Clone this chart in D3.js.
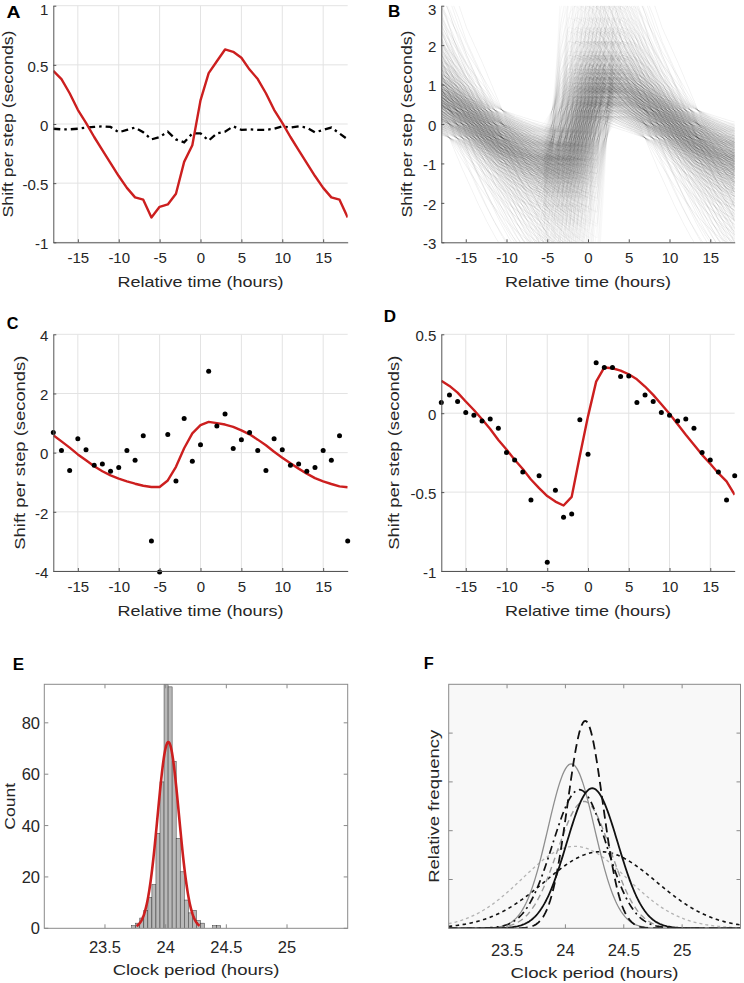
<!DOCTYPE html>
<html><head><meta charset="utf-8">
<script src="https://cdn.jsdelivr.net/npm/d3@7"></script>
<style>
body{margin:0;background:#fff}
svg{display:block}
</style>
</head><body>
<svg id="fig" width="744" height="983"></svg>
<script>
// ================= DATA =================
const hours = [-18,-17,-16,-15,-14,-13,-12,-11,-10,-9,-8,-7,-6,-5,-4,-3,-2,-1,0,1,2,3,4,5,6,7,8,9,10,11,12,13,14,15,16,17,18];
const relTimeTicks = [-15,-10,-5,0,5,10,15];

// Panel A
const aFitted  = [0.45,0.38,0.26,0.12,0.01,-0.11,-0.22,-0.33,-0.44,-0.54,-0.62,-0.64,-0.79,
                  -0.70,-0.68,-0.59,-0.32,-0.18,0.20,0.43,0.53,0.63,0.61,0.56,
                  0.46,0.38,0.26,0.12,0.01,-0.11,-0.22,-0.33,-0.44,-0.54,-0.62,-0.64,-0.79];
const aControl = [-0.04,-0.045,-0.045,-0.04,-0.03,-0.025,-0.02,-0.025,-0.07,-0.05,-0.03,-0.07,-0.13,
                  -0.11,-0.065,-0.13,-0.155,-0.08,-0.08,-0.14,-0.08,-0.065,-0.02,-0.05,
                  -0.045,-0.05,-0.05,-0.04,-0.02,-0.03,-0.02,-0.03,-0.07,-0.05,-0.03,-0.08,-0.13];
const aYTicks = [-1,-0.5,0,0.5,1];

// Panel B: one-period response shapes (hours -18..5) and the spread of individual curves
const bTemplateGradual = [0.55,0.43,0.31,0.18,0.05,-0.08,-0.21,-0.33,-0.45,-0.56,-0.66,-0.75,
                          -0.83,-0.90,-0.96,-1.00,-0.60,0.00,0.55,0.90,1.00,0.95,0.85,0.71];
const bTemplateSteep   = [0.55,0.43,0.31,0.18,0.05,-0.08,-0.21,-0.33,-0.45,-0.56,-0.66,-0.75,
                          -0.83,-0.90,-0.96,-1.02,-1.07,-0.20,0.75,1.00,0.97,0.92,0.84,0.71];
const bAmplitudes = [0.55,0.7,0.85,0.95,1.05,1.18,1.32,1.5,1.75,2.1,2.7,3.8];
const bShifts = [-3.4,-2.5,-1.8,-1.2,-0.7,-0.25,0.2,0.65,1.1,1.6,2.2,3.1];
const bOffsets = [-0.35,0,0.35];
const bYTicks = [-3,-2,-1,0,1,2,3];

// Panel C
const cObserved = [0.68,0.07,-0.60,0.47,0.10,-0.43,-0.38,-0.63,-0.50,0.07,-0.26,0.57,-2.99,
                   -4.03,0.61,-0.96,1.15,-0.29,0.27,2.75,0.90,1.31,0.14,0.44,
                   0.68,0.07,-0.60,0.47,0.10,-0.43,-0.38,-0.63,-0.50,0.07,-0.26,0.57,-2.99];
const cFitted = [0.59,0.38,0.17,-0.06,-0.26,-0.46,-0.63,-0.77,-0.88,-0.97,-1.05,-1.12,-1.16,
                 -1.16,-0.94,-0.48,0.15,0.65,0.93,1.04,1.00,0.95,0.87,0.75,
                 0.62,0.44,0.25,0.03,-0.17,-0.36,-0.54,-0.71,-0.86,-0.97,-1.06,-1.14,-1.17];
const cYTicks = [-4,-2,0,2,4];

// Panel D
const dObserved = [0.068,0.116,0.074,0.004,-0.013,-0.049,-0.036,-0.095,-0.249,-0.297,-0.373,-0.55,-0.397,
                   -0.945,-0.489,-0.66,-0.639,-0.042,-0.26,0.32,0.29,0.289,0.232,0.236,
                   0.068,0.116,0.074,0.004,-0.013,-0.049,-0.036,-0.095,-0.249,-0.297,-0.373,-0.55,-0.397];
const dFitted = [0.205,0.173,0.13,0.074,0.02,-0.038,-0.10,-0.17,-0.23,-0.295,-0.354,-0.42,-0.475,
                 -0.525,-0.56,-0.585,-0.53,-0.27,-0.02,0.20,0.29,0.285,0.27,0.247,
                 0.215,0.169,0.116,0.057,-0.004,-0.07,-0.137,-0.2,-0.264,-0.32,-0.38,-0.432,-0.517];
const dYTicks = [-1,-0.5,0,0.5];

// Panel E: histogram of clock periods
const eBinEdges = [23.72,23.7533,23.7867,23.82,23.8533,23.8867,23.92,23.9533,23.9867,24.02,24.0533,24.0867,
                   24.12,24.1533,24.1867,24.22,24.2533,24.2867,24.32,24.3533,24.3867,24.42,24.4533];
const eCounts = [1,2,4,7,12,17,37,57,95,94,65,35,22,11,6,7,3,2,0,0,1,1];
const eFitMean = 24.022, eFitSD = 0.088, eFitPeak = 72.5, eFitRange = [23.76,24.283];
const periodTicks = [23.5,24,24.5,25];
const eYTicks = [0,20,40,60,80];

// Panel F: fitted period distributions
const fMeans = [24.05,24.17,24.23,24.12,24.16,24.08,24.30];
const fSDs   = [0.20,0.15,0.22,0.23,0.23,0.45,0.48];
const fPeaks = [3.37,4.25,2.87,2.84,2.6,1.68,1.57];
const fYTicks = [1,2,3,4];

// ================= DRAWING =================
const FONT = '"Liberation Sans", Arial, Helvetica, sans-serif';
const svg = d3.select('#fig');
const RED = '#cc1f1f';
let clipId = 0;

function addClip(x0,y0,w,h){
  const id = 'clip'+(clipId++);
  svg.append('clipPath').attr('id',id).append('rect').attr('x',x0).attr('y',y0).attr('width',w).attr('height',h);
  return 'url(#'+id+')';
}
function txt(g,x,y,s,size,opts={}){
  const t = g.append('text').attr('x',x).attr('y',y).text(s)
    .attr('font-family',FONT).attr('font-size',size).attr('fill',opts.fill||'#262626');
  if(opts.bold) t.attr('font-weight','bold');
  if(opts.anchor) t.attr('text-anchor',opts.anchor);
  if(opts.len) t.attr('textLength',opts.len).attr('lengthAdjust','spacingAndGlyphs');
  if(opts.rotate) t.attr('transform',`rotate(-90 ${x} ${y})`);
  return t;
}
function styleAxis(a,size,color){
  a.attr('font-family',null).attr('font-size',null);
  a.select('.domain').attr('stroke',color).attr('stroke-width',1);
  a.selectAll('.tick line').attr('stroke',color);
  a.selectAll('.tick text').attr('font-family',FONT).attr('font-size',size).attr('fill','#262626');
}

function timePanel(c){
  const g = svg.append('g');
  const x = d3.scaleLinear().domain([-18,18]).range([c.x0,c.x1]);
  const y = d3.scaleLinear().domain(c.yDomain).range([c.y1,c.y0]);
  if(c.grid){
    g.selectAll('.gx').data(relTimeTicks).join('line')
      .attr('x1',d=>x(d)).attr('x2',d=>x(d)).attr('y1',c.y0).attr('y2',c.y1)
      .attr('stroke','#e3e3e3').attr('stroke-width',1);
    g.selectAll('.gy').data(c.yTicks).join('line')
      .attr('x1',c.x0).attr('x2',c.x1).attr('y1',d=>y(d)).attr('y2',d=>y(d))
      .attr('stroke','#e3e3e3').attr('stroke-width',1);
  }
  const clip = addClip(c.x0,c.y0,c.x1-c.x0,c.y1-c.y0);
  const layer = g.append('g').attr('clip-path',clip);
  c.draw(layer,x,y,g);
  const ax = g.append('g').attr('transform',`translate(0,${c.y1})`)
    .call(d3.axisBottom(x).tickValues(relTimeTicks).tickFormat(d=>String(d)).tickSizeInner(-3).tickSizeOuter(0).tickPadding(10));
  styleAxis(ax,15,'#555');
  ax.selectAll('.tick text').attr('y',10).attr('dy','0.71em');
  const ay = g.append('g').attr('transform',`translate(${c.x0},0)`)
    .call(d3.axisLeft(y).tickValues(c.yTicks).tickFormat(d=>String(d)).tickSizeInner(-3).tickSizeOuter(0).tickPadding(5));
  styleAxis(ay,15,'#555');
  ay.selectAll('.tick text').attr('x',-5).attr('dy',d=>y(d)<12?'0.56em':'0.42em');
  txt(g,c.lx,c.ly,c.label,16,{bold:true,len:c.llen,fill:'#000'});
  txt(g,(c.x0+c.x1)/2,c.xtY,'Relative time (hours)',15,{anchor:'middle',len:166});
  txt(g,c.ytX,(c.y0+c.y1)/2,'Shift per step (seconds)',15,{anchor:'middle',len:c.ytLen,rotate:true});
}

const lineGen = (x,y)=>d3.line().x(d=>x(d.t)).y(d=>y(d.v));
const zipT = arr => hours.map((t,i)=>({t:t,v:arr[i]}));

// ---- A ----
timePanel({x0:53.3,x1:347.7,y0:5.7,y1:242.3,yDomain:[-1,1],yTicks:aYTicks,grid:true,
  label:'A',lx:6.5,ly:18,llen:14,xtY:287,ytX:13,ytLen:187,
  draw:(L,x,y)=>{
    L.append('path').datum(zipT(aControl)).attr('d',lineGen(x,y)).attr('fill','none')
      .attr('stroke','#000').attr('stroke-width',2.3).attr('stroke-dasharray','7,4,2.5,4');
    L.append('path').datum(zipT(aFitted)).attr('d',lineGen(x,y)).attr('fill','none')
      .attr('stroke',RED).attr('stroke-width',2.4).attr('stroke-linejoin','round');
  }});

// ---- B ----
timePanel({x0:441.3,x1:734.7,y0:5.7,y1:242.3,yDomain:[-3,3],yTicks:bYTicks,grid:false,
  label:'B',lx:388,ly:17,llen:12.3,xtY:287,ytX:412,ytLen:187,
  draw:(L,x,y)=>{
    const curves=[];
    [bTemplateGradual,bTemplateSteep].forEach(tp=>
      bAmplitudes.forEach(a=>bShifts.forEach(s=>bOffsets.forEach(o=>{
        const pts=[];
        [-1,0,1].forEach(k=>tp.forEach((v,i)=>pts.push({t:hours[i]+24*k+s,v:a*v+o})));
        curves.push(pts);
      }))));
    L.selectAll('.bc').data(curves).join('path').attr('d',lineGen(x,y)).attr('fill','none')
      .attr('stroke','#333').attr('stroke-opacity',0.036).attr('stroke-width',0.8);
  }});

// ---- C ----
timePanel({x0:53.3,x1:347.7,y0:334.3,y1:571,yDomain:[-4,4],yTicks:cYTicks,grid:true,
  label:'C',lx:6.7,ly:328.5,llen:11.7,xtY:616,ytX:25,ytLen:194,
  draw:(L,x,y,g)=>{
    L.append('path').datum(zipT(cFitted)).attr('d',lineGen(x,y)).attr('fill','none')
      .attr('stroke',RED).attr('stroke-width',2.4).attr('stroke-linejoin','round');
    g.selectAll('.cd').data(zipT(cObserved)).join('circle').attr('cx',d=>x(d.t)).attr('cy',d=>y(d.v))
      .attr('r',2.5).attr('fill','#000');
  }});

// ---- D ----
timePanel({x0:441.3,x1:734.7,y0:334.3,y1:571,yDomain:[-1,0.5],yTicks:dYTicks,grid:true,
  label:'D',lx:383.7,ly:322.3,llen:12.3,xtY:616,ytX:398.8,ytLen:194,
  draw:(L,x,y,g)=>{
    L.append('path').datum(zipT(dFitted)).attr('d',lineGen(x,y)).attr('fill','none')
      .attr('stroke',RED).attr('stroke-width',2.4).attr('stroke-linejoin','round');
    g.selectAll('.dd').data(zipT(dObserved)).join('circle').attr('cx',d=>x(d.t)).attr('cy',d=>y(d.v))
      .attr('r',2.5).attr('fill','#000');
  }});

// ---- box-style panels (E, F) ----
function boxAxes(g,x,y,x0,x1,y0,y1,yTicks,col){
  const tl=4;
  periodTicks.forEach(v=>{
    g.append('line').attr('x1',x(v)).attr('x2',x(v)).attr('y1',y1).attr('y2',y1-tl).attr('stroke',col);
    g.append('line').attr('x1',x(v)).attr('x2',x(v)).attr('y1',y0).attr('y2',y0+tl).attr('stroke',col);
  });
  yTicks.forEach(v=>{
    g.append('line').attr('x1',x0).attr('x2',x0+tl).attr('y1',y(v)).attr('y2',y(v)).attr('stroke',col);
    g.append('line').attr('x1',x1).attr('x2',x1-tl).attr('y1',y(v)).attr('y2',y(v)).attr('stroke',col);
  });
  g.append('rect').attr('x',x0).attr('y',y0).attr('width',x1-x0).attr('height',y1-y0)
    .attr('fill','none').attr('stroke',col).attr('stroke-width',1);
}

// ---- E ----
(function(){
  const x0=44.3,x1=347.7,y0=684.3,y1=928.3;
  const g=svg.append('g');
  const x=d3.scaleLinear().domain([23,25.5]).range([x0,x1]);
  const y=d3.scaleLinear().domain([0,95]).range([y1,y0]);
  const clip=addClip(x0,y0-1,x1-x0,y1-y0+1);
  const L=g.append('g').attr('clip-path',clip);
  const bins=eCounts.map((c,i)=>({a:eBinEdges[i],b:eBinEdges[i+1],c:c})).filter(d=>d.c>0);
  L.selectAll('rect').data(bins).join('rect')
    .attr('x',d=>x(d.a)).attr('width',d=>x(d.b)-x(d.a))
    .attr('y',d=>y(d.c)).attr('height',d=>y(0)-y(d.c))
    .attr('fill','#b8b8b8').attr('stroke','#333').attr('stroke-width',0.5);
  const fx=d3.range(eFitRange[0],eFitRange[1]+1e-9,0.004);
  const fit=fx.map(v=>({t:v,v:eFitPeak*Math.exp(-0.5*Math.pow((v-eFitMean)/eFitSD,2))}));
  L.append('path').datum(fit).attr('d',lineGen(x,y)).attr('fill','none')
    .attr('stroke',RED).attr('stroke-width',2.6).attr('stroke-linejoin','round');
  boxAxes(g,x,y,x0,x1,y0,y1,eYTicks,'#8a8a8a');
  periodTicks.forEach(v=>txt(g,x(v),953,String(v),16.5,{anchor:'middle'}));
  eYTicks.forEach(v=>txt(g,40,y(v)+6,String(v),16.5,{anchor:'end'}));
  txt(g,12.7,670,'E',16,{bold:true,len:11.3,fill:'#000'});
  txt(g,(x0+x1)/2,975,'Clock period (hours)',15,{anchor:'middle',len:166.7});
  txt(g,15,(y0+y1)/2,'Count',15,{anchor:'middle',len:46.7,rotate:true});
})();

// ---- F ----
(function(){
  const x0=448.7,x1=740.5,y0=684.3,y1=928.3;
  const g=svg.append('g');
  const x=d3.scaleLinear().domain([23,25.5]).range([x0,x1]);
  const y=d3.scaleLinear().domain([0,5]).range([y1,y0]);
  g.append('rect').attr('x',x0).attr('y',y0).attr('width',x1-x0).attr('height',y1-y0).attr('fill','#f8f8f8');
  const clip=addClip(x0,y0,x1-x0,y1-y0);
  const L=g.append('g').attr('clip-path',clip);
  const styles=[
    {c:'#8e8e8e',w:1.3,d:null},
    {c:'#111',w:1.8,d:'9,5'},
    {c:'#111',w:1.8,d:null},
    {c:'#111',w:1.7,d:'8,4,2,4'},
    {c:'#9a9a9a',w:1.4,d:'6,4'},
    {c:'#b4b4b4',w:1.3,d:'3,3'},
    {c:'#111',w:1.6,d:'3.5,3.5'}
  ];
  const grid=d3.range(23,25.5001,0.01);
  const order=[5,6,4,0,3,2,1];
  order.forEach(i=>{
    const pts=grid.map(v=>({t:v,v:fPeaks[i]*Math.exp(-0.5*Math.pow((v-fMeans[i])/fSDs[i],2))}));
    const p=L.append('path').datum(pts).attr('d',lineGen(x,y)).attr('fill','none')
      .attr('stroke',styles[i].c).attr('stroke-width',styles[i].w);
    if(styles[i].d) p.attr('stroke-dasharray',styles[i].d);
  });
  boxAxes(g,x,y,x0,x1,y0,y1,fYTicks,'#8a8a8a');
  periodTicks.forEach(v=>txt(g,x(v),956,String(v),16.5,{anchor:'middle'}));
  txt(g,423.7,669,'F',16,{bold:true,len:10,fill:'#000'});
  txt(g,(x0+x1)/2,978,'Clock period (hours)',15,{anchor:'middle',len:168});
  txt(g,439,(y0+y1)/2,'Relative frequency',15,{anchor:'middle',len:153,rotate:true});
})();
</script>
</body></html>
